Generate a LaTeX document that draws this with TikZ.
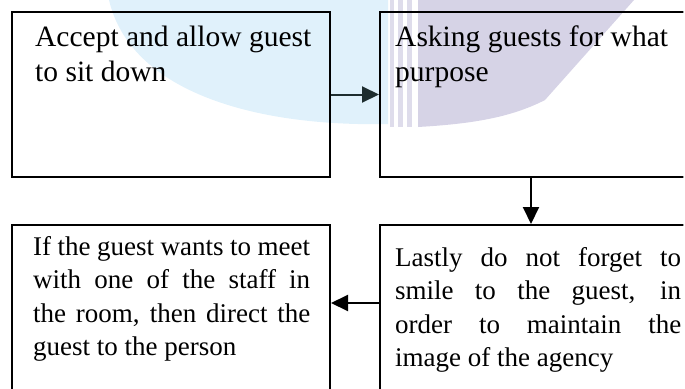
\documentclass[tikz,border=0pt]{standalone}
\usepackage{fontspec}
\setmainfont{Liberation Serif}
\usetikzlibrary{arrows.meta}
\definecolor{wmblue}{HTML}{E0F1FB}
\definecolor{wmpurple}{HTML}{D6D3E6}
\definecolor{arrowdark}{HTML}{1E2D2F}
\newcommand{\bigtxt}{\fontsize{29.5}{35}\selectfont}
\newcommand{\smalltxt}{\fontsize{27}{33.5}\selectfont}
\begin{document}
\begin{tikzpicture}[x=1pt,y=-1pt,
  box/.style={draw=black, line width=2pt, inner sep=0pt, anchor=north west},
  txt/.style={inner sep=0pt, anchor=base west, text=black},
  conn/.style={line width=2pt, -{Triangle[length=17pt,width=16pt]}}]
\useasboundingbox (0,0) rectangle (685,388);
\begin{scope}
\clip (0,0) rectangle (683.3,388);
% watermark
\fill[wmblue] (109,0) .. controls (130,90) and (251,127) .. (388,124) -- (388,0) -- cycle;
\fill[wmpurple!80] (390,0) rectangle (394,127);
\fill[wmpurple!80] (398,0) rectangle (403,127);
\fill[wmpurple!80] (407,0) rectangle (412,127);
\fill[wmpurple] (418,0) -- (634,0) -- (545,100) .. controls (510,118) and (470,124) .. (418,127) -- cycle;
% boxes
\node[box, minimum width=318pt, minimum height=165pt] (b1) at (11,11) {};
\node[box, minimum width=311pt, minimum height=165pt] (b2) at (379,11) {};
\node[box, minimum width=318pt, minimum height=176pt] (b3) at (11,224) {};
\node[box, minimum width=311pt, minimum height=176pt] (b4) at (379,224) {};
% texts
\node[txt] (t1) at (35,46) {\bigtxt\parbox[t]{285pt}{Accept and allow guest\\to sit down}};
\node[txt] (t2) at (395,46) {\bigtxt\parbox[t]{285pt}{Asking guests for what\\purpose}};
\node[txt] (t3) at (33,255) {\smalltxt\parbox[t]{277pt}{%
\makebox[277pt][s]{If the guest wants to meet}\\
\makebox[277pt][s]{with one of the staff in}\\
\makebox[277pt][s]{the room, then direct the}\\
guest to the person}};
\node[txt] (t4) at (395,266) {\smalltxt\parbox[t]{286pt}{%
\makebox[286pt][s]{Lastly do not forget to}\\
\makebox[286pt][s]{smile to the guest, in}\\
\makebox[286pt][s]{order to maintain the}\\
image of the agency}};
% connectors
\coordinate (mid) at (531,200);
\draw[conn, draw=arrowdark, fill=arrowdark] (b1.east) -- (b2.west);
\draw[conn] (b2.south -| mid) -- (b4.north -| mid);
\draw[conn] (b4.west |- 0,303) -- (b3.east |- 0,303);
\end{scope}
\end{tikzpicture}
\end{document}
